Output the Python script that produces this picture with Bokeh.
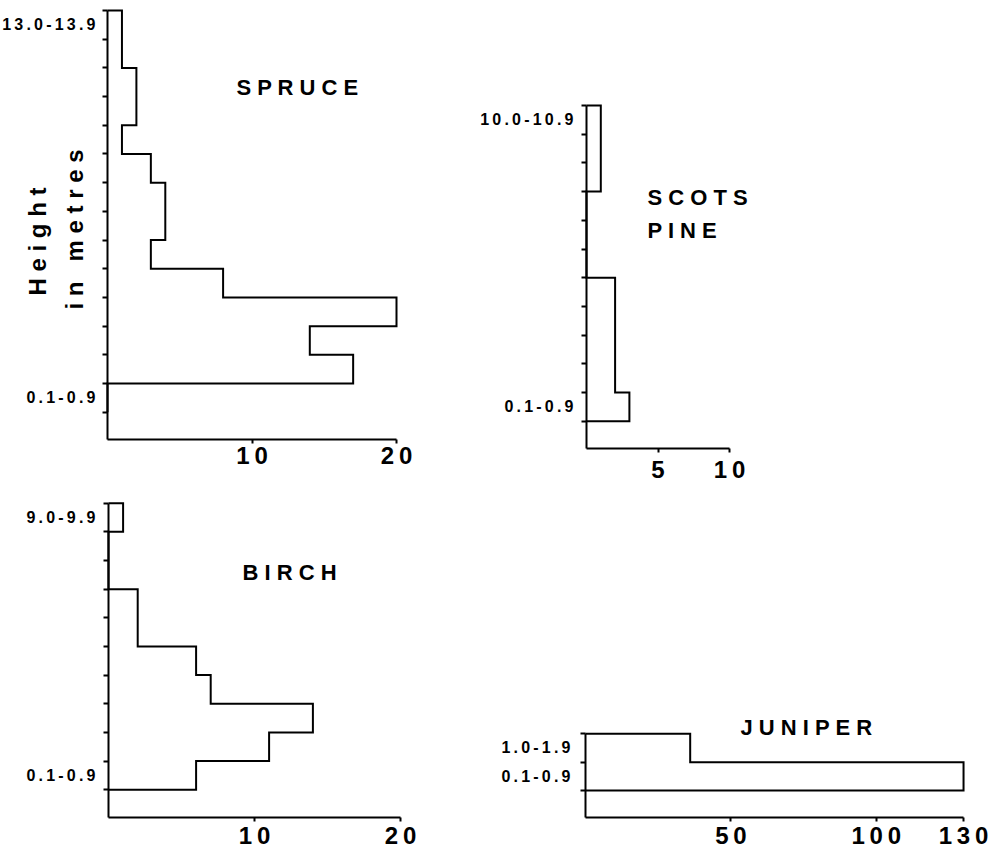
from bokeh.plotting import figure
from bokeh.models import Range1d, FixedTicker, Label
from bokeh.layouts import row, column
from bokeh.embed import file_html
from bokeh.resources import INLINE

# ---------------- data ----------------
spruce_bins = ["0.1-0.9", "1.0-1.9", "2.0-2.9", "3.0-3.9", "4.0-4.9", "5.0-5.9", "6.0-6.9",
               "7.0-7.9", "8.0-8.9", "9.0-9.9", "10.0-10.9", "11.0-11.9", "12.0-12.9", "13.0-13.9"]
spruce_counts = [0, 17, 14, 20, 8, 3, 4, 4, 3, 1, 2, 2, 1, 1]

pine_bins = ["0.1-0.9", "1.0-1.9", "2.0-2.9", "3.0-3.9", "4.0-4.9", "5.0-5.9", "6.0-6.9",
             "7.0-7.9", "8.0-8.9", "9.0-9.9", "10.0-10.9"]
pine_counts = [3, 2, 2, 2, 2, 0, 0, 0, 1, 1, 1]

birch_bins = ["0.1-0.9", "1.0-1.9", "2.0-2.9", "3.0-3.9", "4.0-4.9", "5.0-5.9", "6.0-6.9",
              "7.0-7.9", "8.0-8.9", "9.0-9.9"]
birch_counts = [6, 11, 14, 7, 6, 2, 2, 0, 0, 1]

juniper_bins = ["0.1-0.9", "1.0-1.9"]
juniper_counts = [130, 36]

spruce_xticks = [10, 20]
pine_xticks = [5, 10]
birch_xticks = [10, 20]
juniper_xticks = [50, 100, 130]

FONT = "Liberation Sans"
THIN = "\u2009"


def spaced(s):
    return THIN.join(s)


def outline(counts):
    xs, ys = [0], [0]
    for i, c in enumerate(counts):
        xs += [c, c]
        ys += [i, i + 1]
    xs.append(0)
    ys.append(len(counts))
    return xs, ys


class Panel:
    """A figure whose frame is the whole canvas; axes are pinned at x=0 / axis bottom."""

    def __init__(self, bins, counts, xmax, xticks, W, H, x0, ux, y0, uy, ax_px, ystand, xstand):
        self.x0, self.ux, self.y0, self.uy = x0, ux, y0, uy
        xr = Range1d(-x0 / ux, (W - x0) / ux)
        yr = Range1d((y0 - H) / uy, y0 / uy)
        p = figure(width=W, height=H, x_range=xr, y_range=yr,
                   output_backend="svg", toolbar_location=None,
                   min_border_left=0, min_border_right=0, min_border_top=0, min_border_bottom=0)
        p.frame_align = False
        p.grid.visible = False
        p.outline_line_color = None
        p.background_fill_color = "white"
        p.border_fill_color = "white"
        xs, ys = outline(counts)
        p.line(xs, ys, line_width=2, line_color="black", line_join="miter")

        ybot = (y0 - ax_px) / uy
        n = len(bins)
        yax = p.yaxis[0]
        yax.fixed_location = 0
        yax.bounds = (ybot, n)
        yax.ticker = FixedTicker(ticks=[0.5, n - 0.5], minor_ticks=list(range(n + 1)))
        yax.major_label_overrides = {0.5: spaced(bins[0]), n - 0.5: spaced(bins[-1])}
        yax.major_tick_out = 0
        yax.major_tick_in = 0
        yax.minor_tick_out = 5
        yax.minor_tick_in = 0
        yax.minor_tick_line_width = 2
        yax.minor_tick_line_color = "black"
        yax.axis_line_width = 2
        yax.axis_line_color = "black"
        yax.major_label_standoff = ystand
        yax.major_label_text_font = FONT
        yax.major_label_text_font_style = "bold"
        yax.major_label_text_font_size = "16px"
        yax.major_label_text_color = "black"

        xax = p.xaxis[0]
        xax.fixed_location = ybot
        xax.bounds = (0, xmax)
        xax.ticker = FixedTicker(ticks=xticks, minor_ticks=[])
        xax.major_label_overrides = {v: spaced(str(v)) for v in xticks}
        xax.major_tick_out = 4
        xax.major_tick_in = 0
        xax.major_tick_line_width = 2
        xax.major_tick_line_color = "black"
        xax.axis_line_width = 2
        xax.axis_line_color = "black"
        xax.major_label_standoff = xstand
        xax.major_label_text_font = FONT
        xax.major_label_text_font_style = "bold"
        xax.major_label_text_font_size = "24px"
        xax.major_label_text_color = "black"
        self.p = p

    def title(self, px, py, text, align="center", angle=0.0, size="22px"):
        x = (px - self.x0) / self.ux
        y = (self.y0 - py) / self.uy
        self.p.add_layout(Label(x=x, y=y, text=text, text_font=FONT, text_font_style="bold",
                                text_font_size=size, text_align=align, text_baseline="middle",
                                angle=angle, text_color="black"))


# figure-local pixel geometry (left column starts at page x 0, right column at page x 478;
# top row starts at page y 0, bottom row at page y 488)
spruce = Panel(spruce_bins, spruce_counts, 20, spruce_xticks, 478, 488,
               107, 14.45, 411.7, 28.69, 439, 7, -2)
spruce.title(297, 87, " ".join("SPRUCE"))
spruce.title(37, 241, " ".join("Height"), angle=1.5708, size="24px")
spruce.title(74, 229, "i n \u00a0 m e t r e s", angle=1.5708, size="24px")

birch = Panel(birch_bins, birch_counts, 20, birch_xticks, 478, 362,
              108, 14.6, 301.2, 28.65, 329, 8, 0)
birch.title(289, 84, " ".join("BIRCH"))

pine = Panel(pine_bins, pine_counts, 10, pine_xticks, 518, 488,
             108, 14.3, 420.7, 28.7, 448, 8, 3)
pine.title(169, 197, " ".join("SCOTS"), align="left")
pine.title(169, 230, " ".join("PINE"), align="left")

juniper = Panel(juniper_bins, juniper_counts, 130, juniper_xticks, 518, 362,
                107, 2.908, 302, 28.36, 329, 10, 0)
juniper.title(328, 239, " ".join("JUNIPER"))

layout = row(column(spruce.p, birch.p), column(pine.p, juniper.p))

open("out.html", "w").write(file_html(layout, INLINE))
